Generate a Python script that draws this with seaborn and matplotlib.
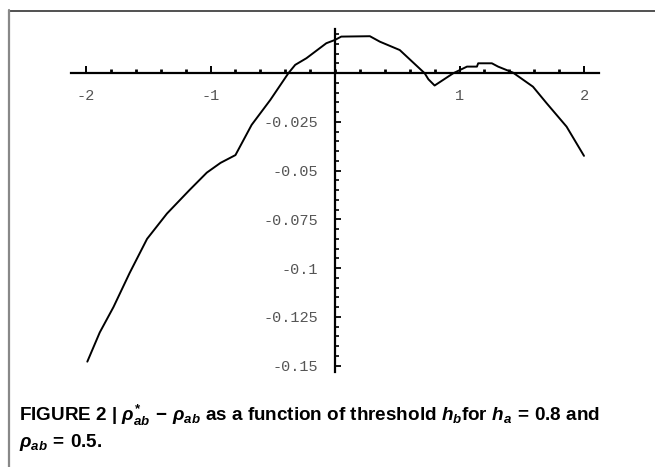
import matplotlib
matplotlib.use('Agg')
import matplotlib.pyplot as plt
from matplotlib.lines import Line2D
from matplotlib.ticker import MultipleLocator
import seaborn as sns
import pandas as pd

# ── data ─────────────────────────────────────────────────────────────────────
h_b = [-1.99, -1.89, -1.78, -1.65, -1.51, -1.35, -1.17, -1.03, -0.92, -0.80,
       -0.67, -0.52, -0.375, -0.32, -0.23, -0.07, 0.0, 0.05, 0.28, 0.36,
       0.52, 0.72, 0.75, 0.80, 0.95, 1.06, 1.14, 1.15, 1.26, 1.31,
       1.43, 1.59, 1.70, 1.86, 2.0]
diff = [-0.148, -0.133, -0.120, -0.1025, -0.085, -0.072, -0.060, -0.051, -0.046, -0.042,
        -0.0265, -0.0137, 0.0, 0.0043, 0.0077, 0.0154, 0.0171, 0.0188, 0.0190, 0.0162,
        0.0119, 0.0, -0.0031, -0.0063, 0.0, 0.0034, 0.0034, 0.0051, 0.0051, 0.0034,
        0.0003, -0.0069, -0.0154, -0.0274, -0.0424]

x_ticks = [-2, -1, 1, 2]
x_labels = ['-2', '-1', '1', '2']
y_ticks = [-0.025, -0.05, -0.075, -0.1, -0.125, -0.15]
y_labels = ['-0.025', '-0.05', '-0.075', '-0.1', '-0.125', '-0.15']

caption1 = (r'FIGURE 2 | $\rho^{*}_{ab}\,-\,\rho_{ab}$ as a function of threshold '
            r'$h_b$for $h_a\,=\,0.8$ and')
caption2 = r'$\rho_{ab}\,=\,0.5$.'

df = pd.DataFrame({'h_b': h_b, 'diff': diff})

# ── style ────────────────────────────────────────────────────────────────────
sns.set_style('white')
plt.rcParams['font.family'] = ['Liberation Sans', 'DejaVu Sans']
plt.rcParams['mathtext.fontset'] = 'custom'
plt.rcParams['mathtext.rm'] = 'Liberation Sans:bold'
plt.rcParams['mathtext.it'] = 'Liberation Sans:italic:bold'
plt.rcParams['mathtext.bf'] = 'Liberation Sans:bold'

GRAY_TXT = '#555555'

fig = plt.figure(figsize=(6.55, 4.67), dpi=100, facecolor='white')
ax = fig.add_axes([0.1086, 0.2039, 0.8058, 0.734])
ax.set_facecolor('white')

sns.lineplot(data=df, x='h_b', y='diff', sort=False, estimator=None,
             color='black', linewidth=1.4, ax=ax)

ax.set_xlim(-2.12, 2.12)
ax.set_ylim(-0.1532, 0.0227)

for s in ['top', 'right']:
    ax.spines[s].set_visible(False)
ax.spines['left'].set_position('zero')
ax.spines['bottom'].set_position('zero')
for s in ['left', 'bottom']:
    ax.spines[s].set_color('black')
    ax.spines[s].set_linewidth(1.6)

ax.xaxis.set_minor_locator(MultipleLocator(0.2))
ax.yaxis.set_minor_locator(MultipleLocator(0.005))

ax.tick_params(axis='both', which='both', direction='in', color='black',
               bottom=True, left=True)
ax.tick_params(axis='x', which='major', length=5, width=1.4, pad=11)
ax.tick_params(axis='x', which='minor', length=3, width=2.0)
ax.tick_params(axis='y', which='major', length=4.5, width=1.3, pad=12)
ax.tick_params(axis='y', which='minor', length=3, width=1.2)

ax.set_xticks(x_ticks)
ax.set_xticklabels(x_labels, fontfamily='Liberation Mono', fontsize=11,
                   color=GRAY_TXT)
ax.set_yticks(y_ticks)
ax.set_yticklabels(y_labels, fontfamily='Liberation Mono', fontsize=11,
                   color=GRAY_TXT)
ax.set_xlabel('')
ax.set_ylabel('')

# frame lines round the figure panel
fig.add_artist(Line2D([9 / 655, 1.0], [1 - 10.5 / 467, 1 - 10.5 / 467],
                      transform=fig.transFigure, color='#333333', linewidth=1.2))
fig.add_artist(Line2D([9 / 655, 9 / 655], [0.0, 1 - 10 / 467],
                      transform=fig.transFigure, color='#888888', linewidth=1.6))

fig.text(19 / 655, 1 - 421 / 467, caption1, fontsize=13.6, fontweight='bold',
         ha='left', va='baseline', color='black')
fig.text(19 / 655, 1 - 447 / 467, caption2, fontsize=13.6, fontweight='bold',
         ha='left', va='baseline', color='black')

fig.savefig('out.png', dpi=100, facecolor='white')
